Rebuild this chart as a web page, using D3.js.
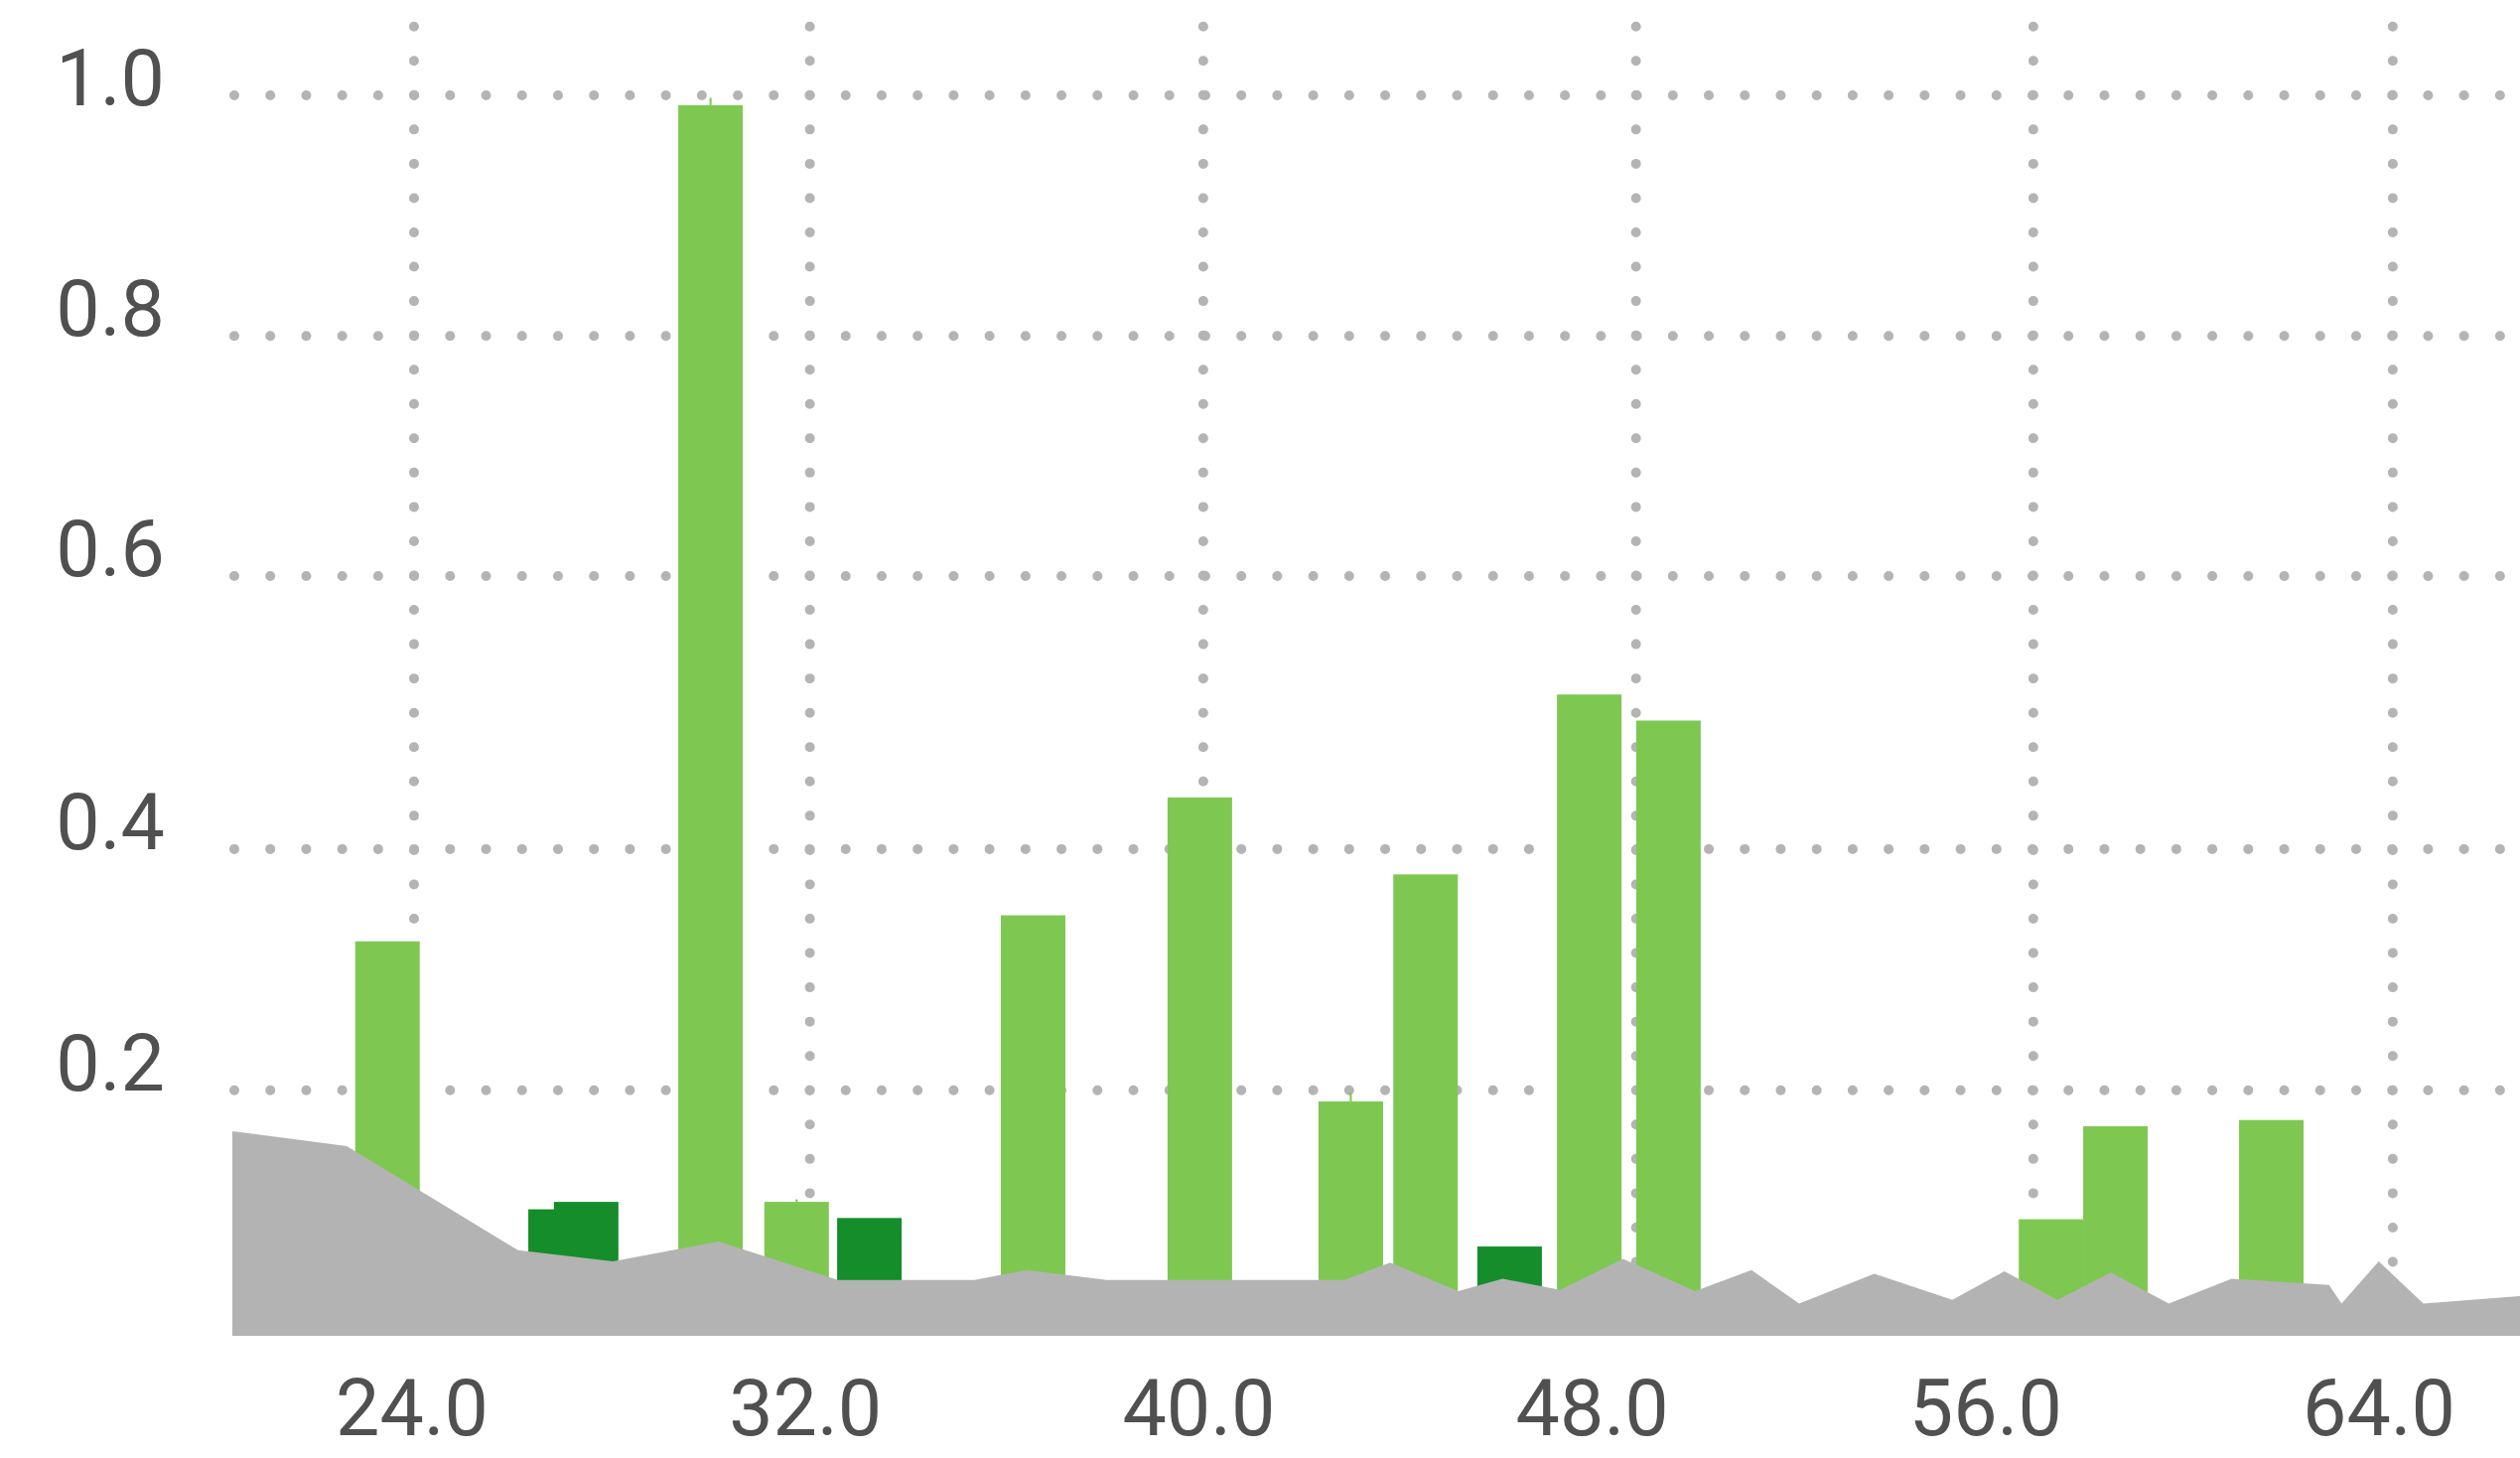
<!DOCTYPE html>
<html>
<head>
<meta charset="utf-8">
<script src="https://cdn.jsdelivr.net/npm/d3@7/dist/d3.min.js"></script>
<style>
  body { margin: 0; background: #fff; }
</style>
</head>
<body>
<script>
// light green bars: centre (x) and value
const lightX = [23.5, 30.07, 31.82, 36.63, 40.02, 43.09, 44.61, 47.94, 49.55, 57.33, 58.64, 61.81];
const lightY = [0.318, 0.992, 0.108, 0.339, 0.434, 0.189, 0.372, 0.517, 0.496, 0.094, 0.169, 0.174];
const lightErr = [null, 0.998, 0.110, null, null, 0.196, null, null, null, null, null, null];

// dark green bars
const darkX = [27.02, 27.54, 33.30, 46.32];
const darkY = [0.102, 0.108, 0.095, 0.072];

// grey background area
const areaX = [20.345, 22.673, 26.154, 28.085, 30.239, 32.656, 35.435, 36.499, 38.128, 42.96,
  43.889, 45.276, 46.177, 47.348, 48.628, 50.094, 51.239, 52.208, 53.736, 55.324,
  56.382, 57.458, 58.548, 59.725, 61.005, 62.984, 63.238, 63.994, 64.902, 66.867, 68.5];
const areaY = [0.165, 0.153, 0.069, 0.060, 0.076, 0.045, 0.045, 0.053, 0.045, 0.045,
  0.059, 0.036, 0.046, 0.037, 0.062, 0.036, 0.053, 0.026, 0.050, 0.029,
  0.052, 0.029, 0.051, 0.026, 0.046, 0.041, 0.026, 0.060, 0.026, 0.032, 0.034];

// ticks
const xTicks = [24, 32, 40, 48, 56, 64];
const xGrid = [24.04, 32.09, 40.09, 48.89, 56.97, 64.28];
const yGrid = [0.198, 0.3924, 0.6125, 0.8061, 1.0];

const width = 2538;
const height = 1468;
const plotLeft = 236;
const gridTop = 26.7;
const barWidth = 1.3125; // in x units
const fontSize = 79;

const x = d3.scaleLinear().domain([24, 64]).range([415, 2396]);
const y = d3.scaleLinear().domain([0, 1]).range([1345, 96]);

const svg = d3.select("body")
  .append("svg")
  .attr("width", width)
  .attr("height", height)
  .attr("viewBox", [0, 0, width, height]);

// dotted grid
svg.append("g")
  .selectAll("line")
  .data(yGrid)
  .join("line")
  .attr("x1", plotLeft)
  .attr("x2", width + 20)
  .attr("y1", d => y(d))
  .attr("y2", d => y(d))
  .attr("stroke", "#b4b4b4")
  .attr("stroke-width", 10)
  .attr("stroke-linecap", "round")
  .attr("stroke-dasharray", "0 36.22");

svg.append("g")
  .selectAll("line")
  .data(xGrid)
  .join("line")
  .attr("x1", d => x(d))
  .attr("x2", d => x(d))
  .attr("y1", gridTop)
  .attr("y2", y(0))
  .attr("stroke", "#b4b4b4")
  .attr("stroke-width", 10)
  .attr("stroke-linecap", "round")
  .attr("stroke-dasharray", "0 34.55");

// bars
const bw = x(24 + barWidth) - x(24);

svg.append("g")
  .selectAll("rect")
  .data(lightX)
  .join("rect")
  .attr("x", (d, i) => x(d) - bw / 2)
  .attr("width", bw)
  .attr("y", (d, i) => y(lightY[i]))
  .attr("height", (d, i) => y(0) - y(lightY[i]))
  .attr("fill", "#7ec852");

svg.append("g")
  .selectAll("line")
  .data(lightX.map((d, i) => [d, lightY[i], lightErr[i]]).filter(d => d[2] != null))
  .join("line")
  .attr("x1", d => x(d[0]))
  .attr("x2", d => x(d[0]))
  .attr("y1", d => y(d[1]))
  .attr("y2", d => y(d[2]))
  .attr("stroke", "#7ec852")
  .attr("stroke-width", 2);

svg.append("g")
  .selectAll("rect")
  .data(darkX)
  .join("rect")
  .attr("x", d => x(d) - bw / 2)
  .attr("width", bw)
  .attr("y", (d, i) => y(darkY[i]))
  .attr("height", (d, i) => y(0) - y(darkY[i]))
  .attr("fill", "#158d2b");

// grey area on top
const area = d3.area()
  .x(d => x(d[0]))
  .y0(y(0))
  .y1(d => y(d[1]));

svg.append("path")
  .datum(areaX.map((d, i) => [d, areaY[i]]))
  .attr("d", area)
  .attr("fill", "#b3b3b3");

// y labels (kept inside the top edge)
const labelTop = 50;
svg.append("g")
  .selectAll("text")
  .data(yGrid)
  .join("text")
  .attr("x", 166)
  .attr("y", d => Math.max(y(d), labelTop + fontSize * 0.711))
  .attr("text-anchor", "end")
  .attr("font-family", "Roboto, sans-serif")
  .attr("font-size", fontSize + "px")
  .attr("fill", "#505050")
  .text(d => d3.format(".1f")(d));

// x labels
svg.append("g")
  .selectAll("text")
  .data(xTicks)
  .join("text")
  .attr("x", d => x(d))
  .attr("y", 1445)
  .attr("text-anchor", "middle")
  .attr("font-family", "Roboto, sans-serif")
  .attr("font-size", fontSize + "px")
  .attr("fill", "#505050")
  .text(d => d3.format(".1f")(d));
</script>
</body>
</html>
